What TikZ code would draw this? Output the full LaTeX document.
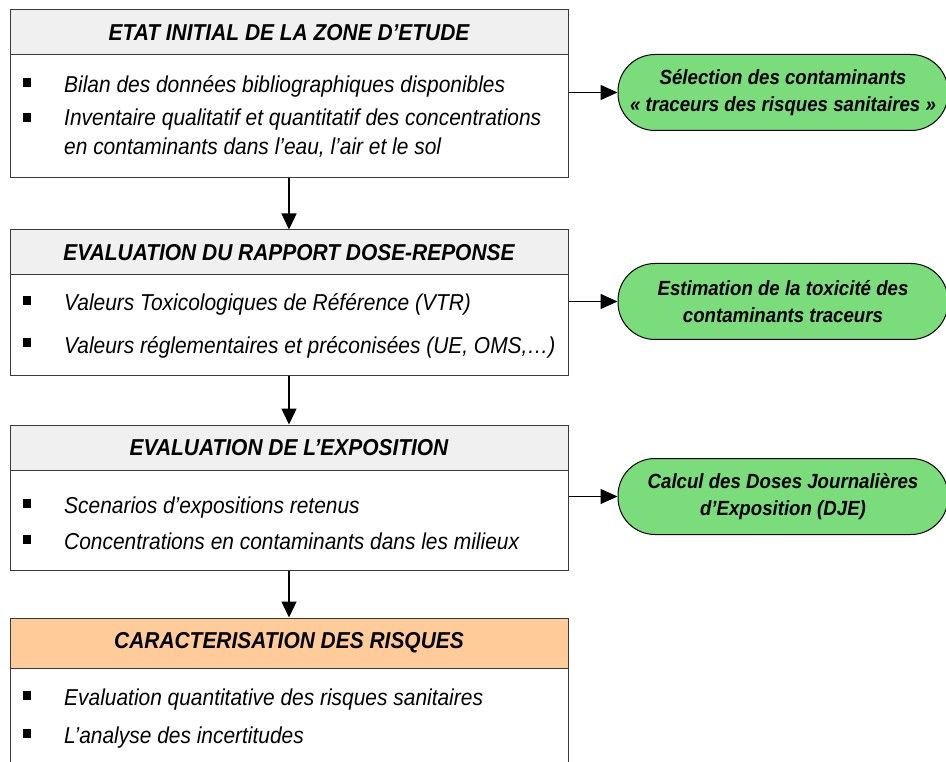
\documentclass[tikz,border=0pt]{standalone}
\usepackage{fontspec}
\setmainfont{Liberation Sans}[FakeStretch=0.91]
\usetikzlibrary{arrows.meta}
\definecolor{hdrgray}{HTML}{F0F0F0}
\definecolor{hdrorange}{HTML}{FFCC99}
\definecolor{pillgreen}{HTML}{7ADC7A}
\definecolor{boxline}{HTML}{3A3A3A}
\tikzset{
  hdr/.style={draw=boxline, line width=1pt, fill=hdrgray, minimum width=558pt, minimum height=45pt, inner sep=0pt,
     font=\fontsize{23}{26}\selectfont\bfseries\itshape},
  bodybox/.style={draw=boxline, line width=1pt, fill=white, minimum width=558pt, inner sep=0pt},
  item/.style={anchor=base west, inner sep=0pt, font=\fontsize{23}{26}\selectfont\itshape},
  bul/.style={fill=black, minimum width=8pt, minimum height=9pt, inner sep=0pt},
  pill/.style={draw=black, line width=1pt, fill=pillgreen, rounded corners=37pt, minimum width=330pt, minimum height=76pt,
     align=center, inner sep=0pt, font=\fontsize{20.5}{27}\selectfont\bfseries\itshape},
  flow/.style={draw=black, line width=1.4pt, -{Triangle[length=16pt,width=15pt]}},
  side/.style={draw=black, line width=1.4pt, -{Triangle[length=17pt,width=15pt]}},
}
\begin{document}
\begin{tikzpicture}[x=1pt,y=-1pt]
\useasboundingbox (0,0) rectangle (946,762);
% box 1
\node[bodybox, minimum height=124pt] (b1) at (289,116) {};
\node[hdr] (h1) at (289,32.5) {ETAT INITIAL DE LA ZONE D’ETUDE};
\node[bul] (s11) at (26.7,82.5) {};
\node[item] (t11) at (64,92.7) {Bilan des données bibliographiques disponibles};
\node[bul] (s12) at (26.7,117.5) {};
\node[item] (t12) at (64,125.7) {Inventaire qualitatif et quantitatif des concentrations};
\node[item] (t13) at (64,154.3) {en contaminants dans l’eau, l’air et le sol};
% box 2
\node[bodybox, minimum height=101pt] (b2) at (289,325) {};
\node[hdr] (h2) at (289,252.5) {EVALUATION DU RAPPORT DOSE-REPONSE};
\node[bul] (s21) at (26.7,301) {};
\node[item] (t21) at (64,311) {Valeurs Toxicologiques de Référence (VTR)};
\node[bul] (s22) at (26.7,343) {};
\node[item] (t22) at (64,353) {Valeurs réglementaires et préconisées (UE, OMS,…)};
% box 3
\node[bodybox, minimum height=101pt] (b3) at (289,520) {};
\node[hdr] (h3) at (289,447.5) {EVALUATION DE L’EXPOSITION};
\node[bul] (s31) at (26.7,503) {};
\node[item] (t31) at (64,513) {Scenarios d’expositions retenus};
\node[bul] (s32) at (26.7,539) {};
\node[item] (t32) at (64,549) {Concentrations en contaminants dans les milieux};
% box 4
\node[bodybox, minimum height=120pt] (b4) at (289,728) {};
\node[hdr, fill=hdrorange, minimum height=50pt] (h4) at (289,643) {CARACTERISATION DES RISQUES};
\node[bul] (s41) at (26.7,695) {};
\node[item] (t41) at (64,705) {Evaluation quantitative des risques sanitaires};
\node[bul] (s42) at (26.7,733) {};
\node[item] (t42) at (64,743) {L’analyse des incertitudes};
% pills
\node[pill] (p1) at (783,92.5) {Sélection des contaminants\\« traceurs des risques sanitaires »};
\node[pill] (p2) at (783,301.5) {Estimation de la toxicité des\\contaminants traceurs};
\node[pill] (p3) at (783,496.5) {Calcul des Doses Journalières\\d’Exposition (DJE)};
% connectors
\draw[flow] (b1.south) -- (h2.north);
\draw[flow] (b2.south) -- (h3.north);
\draw[flow] (b3.south) -- (h4.north);
\draw[side] (b1.east |- p1.west) -- (p1.west);
\draw[side] (b2.east |- p2.west) -- (p2.west);
\draw[side] (b3.east |- p3.west) -- (p3.west);
\end{tikzpicture}
\end{document}
